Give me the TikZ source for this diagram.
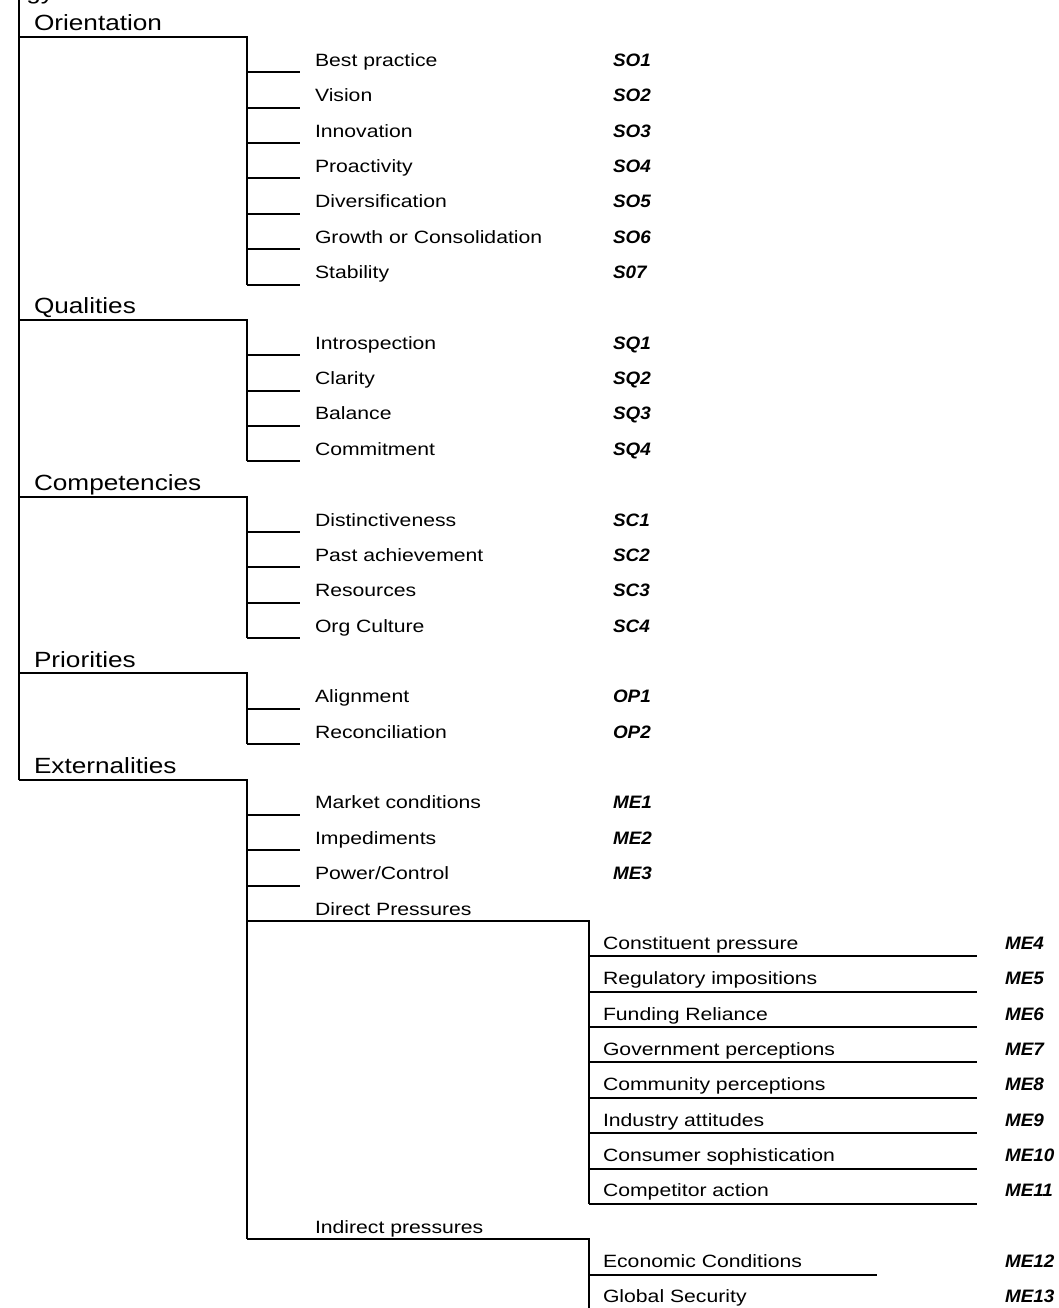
\documentclass[tikz,border=0pt]{standalone}
\usepackage{fontspec}
\setmainfont{Liberation Sans}[FakeStretch=1.19]
\newfontfamily\codefont{Liberation Sans}[FakeStretch=1.05]

\begin{document}
\begin{tikzpicture}[x=1pt,y=-35.36pt,line width=2pt,
  catlabel/.style={anchor=base west,inner sep=0pt,font=\fontsize{22}{24}\selectfont},
  itemlabel/.style={anchor=base west,inner sep=0pt,font=\fontsize{17.8}{20}\selectfont},
  codelabel/.style={anchor=base west,inner sep=0pt,font=\codefont\fontsize{18}{20}\selectfont\bfseries\itshape}]
\useasboundingbox (0,0) rectangle (1058,36.991);
\clip (0,0) rectangle (1058,36.991);
% title, cut off at the top
\node[catlabel,anchor=base east] (title) at (55pt,0pt) {Strategy};
\begin{scope}[yshift=-37pt]
% main stem
\coordinate (top) at (19,-2);
\draw[line width=2.8pt] (top) -- (19,21);
% categories
\foreach \r/\lab/\last in {0/Orientation/7,8/Qualities/12,13/Competencies/17,
  18/Priorities/20,21/Externalities/34}{
  \coordinate (h\r) at (19,\r);
  \coordinate (k\r) at (247,\last);
  \node[catlabel] (t\r) at ([yshift=6pt]33,\r) {\lab};
  \draw (h\r) -| (k\r);
}
% items
\foreach \r/\lab/\code in {1/Best practice/SO1,2/Vision/SO2,3/Innovation/SO3,
  4/Proactivity/SO4,5/Diversification/SO5,6/Growth or Consolidation/SO6,7/Stability/S07,
  9/Introspection/SQ1,10/Clarity/SQ2,11/Balance/SQ3,12/Commitment/SQ4,
  14/Distinctiveness/SC1,15/Past achievement/SC2,16/Resources/SC3,17/Org Culture/SC4,
  19/Alignment/OP1,20/Reconciliation/OP2,
  22/Market conditions/ME1,23/Impediments/ME2,24/{Power/Control}/ME3}{
  \coordinate (a\r) at (247,\r);
  \coordinate (e\r) at (300,\r);
  \draw (a\r) -- (e\r);
  \node[itemlabel] (l\r) at ([yshift=6pt]314,\r) {\lab};
  \node[codelabel] (c\r) at ([yshift=6pt]612,\r) {\code};
}
% pressures
\foreach \r/\lab/\last in {25/Direct Pressures/33,34/Indirect pressures/37}{
  \coordinate (a\r) at (247,\r);
  \coordinate (d\r) at (589,\last);
  \node[itemlabel] (l\r) at ([yshift=6pt]314,\r) {\lab};
  \draw (a\r) -| (d\r);
}
\foreach \r/\lab/\code/\xe in {26/Constituent pressure/ME4/977,27/Regulatory impositions/ME5/977,
  28/Funding Reliance/ME6/977,29/Government perceptions/ME7/977,
  30/Community perceptions/ME8/977,31/Industry attitudes/ME9/977,
  32/Consumer sophistication/ME10/977,33/Competitor action/ME11/977,
  35/Economic Conditions/ME12/877,36/Global Security/ME13/977}{
  \coordinate (a\r) at (589,\r);
  \coordinate (e\r) at (\xe,\r);
  \draw (a\r) -- (e\r);
  \node[itemlabel] (l\r) at ([yshift=7pt]602,\r) {\lab};
  \node[codelabel] (c\r) at ([yshift=7pt]1004,\r) {\code};
}
\end{scope}
\end{tikzpicture}
\end{document}
